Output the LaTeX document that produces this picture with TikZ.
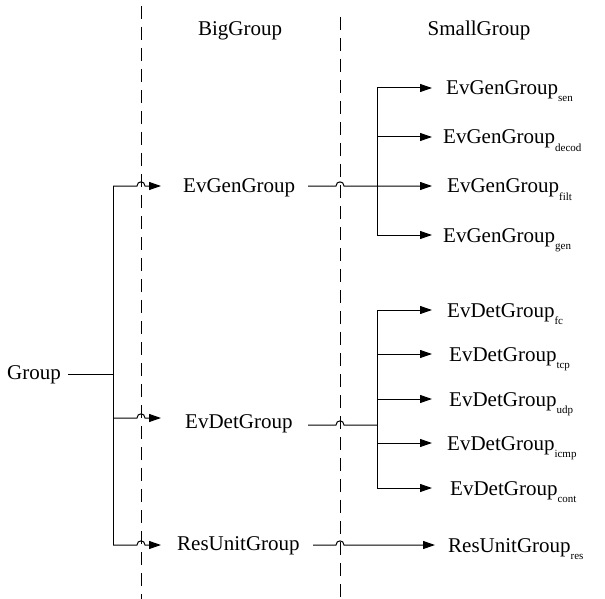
\documentclass[tikz,border=0pt]{standalone}
\usepackage{fontspec}
\setmainfont{Liberation Serif}
\usetikzlibrary{arrows.meta}
\newcommand{\sbs}[1]{\raisebox{-7pt}{\fontsize{11}{11}\selectfont #1}}
\newcommand{\hop}[2]{-- (#1-4,#2) .. controls (#1-4,#2-5.5) and (#1+4,#2-5.5) .. (#1+4,#2)}
\begin{document}
\begin{tikzpicture}[x=1pt,y=-1pt,
  lbl/.style={font=\fontsize{21}{25}\selectfont, inner sep=0pt},
  conn/.style={line width=1pt},
  arr/.style={conn,-{Triangle[length=12pt,width=8pt]}},
  sep/.style={line width=1pt, dash pattern=on 13pt off 8pt}]
\useasboundingbox (0,0) rectangle (605,599);
% separators
\draw[sep] (141,6) -- (141,599);
\draw[sep] (340,17) -- (340,599);
% headers
\node[lbl,anchor=base] (hb) at (240,36) {BigGroup};
\node[lbl,anchor=base] (hs) at (479,36) {SmallGroup};
% left / middle
\node[lbl,anchor=base west] (G) at (7,379) {Group};
\node[lbl,anchor=base west] (EG) at (183,193) {EvGenGroup};
\node[lbl,anchor=base west] (ED) at (185,428) {EvDetGroup};
\node[lbl,anchor=base west] (RU) at (177,550) {ResUnitGroup};
% right
\node[lbl,anchor=base west] (g1) at (446,95) {EvGenGroup\sbs{sen}};
\node[lbl,anchor=base west] (g2) at (443,144) {EvGenGroup\sbs{decod}};
\node[lbl,anchor=base west] (g3) at (447,193) {EvGenGroup\sbs{filt}};
\node[lbl,anchor=base west] (g4) at (443,242) {EvGenGroup\sbs{gen}};
\node[lbl,anchor=base west] (d1) at (447,317) {EvDetGroup\sbs{fc}};
\node[lbl,anchor=base west] (d2) at (449,361) {EvDetGroup\sbs{tcp}};
\node[lbl,anchor=base west] (d3) at (449,406) {EvDetGroup\sbs{udp}};
\node[lbl,anchor=base west] (d4) at (447,450) {EvDetGroup\sbs{icmp}};
\node[lbl,anchor=base west] (d5) at (450,495) {EvDetGroup\sbs{cont}};
\node[lbl,anchor=base west] (r1) at (448,552) {ResUnitGroup\sbs{res}};
% left tree
\coordinate (t0) at (113,374);
\coordinate (t1) at (113,186);
\coordinate (t2) at (113,418);
\coordinate (t3) at (113,545);
\draw[conn,shorten <=7pt] (G.east |- t0) -- (t0);
\draw[conn] (t1) -- (t3);
\draw[arr,shorten >=22pt] (t1) \hop{141}{186} -- (t1 -| EG.west);
\draw[arr,shorten >=24pt] (t2) \hop{141}{418} -- (t2 -| ED.west);
\draw[arr,shorten >=16pt] (t3) \hop{141}{545} -- (t3 -| RU.west);
% EvGen group fan
\coordinate (eg) at (308,186);
\coordinate (va1) at (377,88);
\coordinate (va2) at (377,137);
\coordinate (va3) at (377,186);
\coordinate (va4) at (377,235);
\draw[conn] (va1) -- (va4);
\draw[arr,shorten >=15pt] (eg) \hop{340}{186} -- (va3) -- (va3 -| g3.west);
\draw[arr,shorten >=14pt] (va1) -- (va1 -| g1.west);
\draw[arr,shorten >=11pt] (va2) -- (va2 -| g2.west);
\draw[arr,shorten >=11pt] (va4) -- (va4 -| g4.west);
% EvDet group fan
\coordinate (ed) at (308,425);
\coordinate (vb0) at (377,425);
\coordinate (vb1) at (377,310);
\coordinate (vb2) at (377,354);
\coordinate (vb3) at (377,399);
\coordinate (vb4) at (377,443);
\coordinate (vb5) at (377,488);
\draw[conn] (vb1) -- (vb5);
\draw[conn] (ed) \hop{340}{425} -- (vb0);
\draw[arr,shorten >=15pt] (vb1) -- (vb1 -| d1.west);
\draw[arr,shorten >=17pt] (vb2) -- (vb2 -| d2.west);
\draw[arr,shorten >=17pt] (vb3) -- (vb3 -| d3.west);
\draw[arr,shorten >=15pt] (vb4) -- (vb4 -| d4.west);
\draw[arr,shorten >=18pt] (vb5) -- (vb5 -| d5.west);
% ResUnit
\coordinate (ru) at (313,545);
\draw[arr,shorten >=13pt] (ru) \hop{340}{545} -- (ru -| r1.west);
\end{tikzpicture}
\end{document}
